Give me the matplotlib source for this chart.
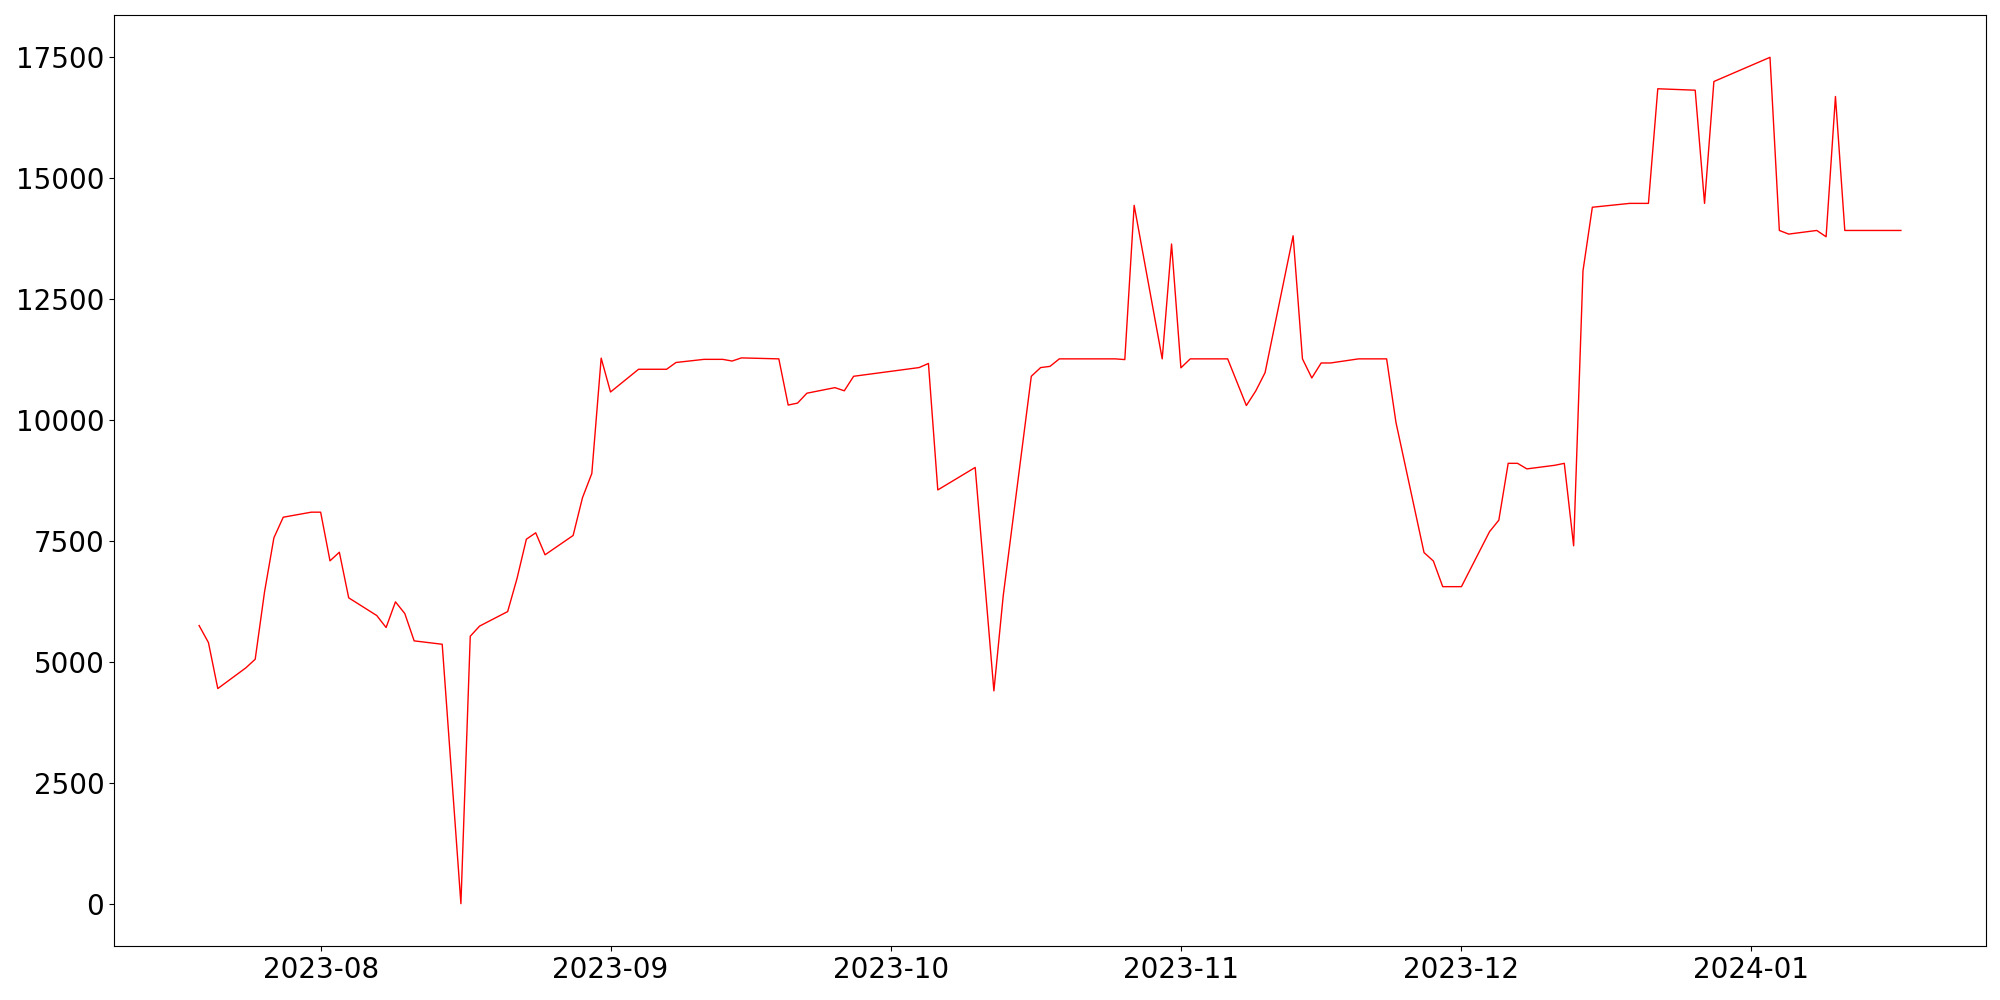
import numpy as np
import pandas as pd
from matplotlib import pyplot as plt

# daily values (trading days only, straight runs dropped)
dates = ['2023-07-19', '2023-07-20', '2023-07-21', '2023-07-24', '2023-07-25',
         '2023-07-26', '2023-07-27', '2023-07-28', '2023-07-31', '2023-08-01',
         '2023-08-02', '2023-08-03', '2023-08-04', '2023-08-07', '2023-08-08',
         '2023-08-09', '2023-08-10', '2023-08-11', '2023-08-14', '2023-08-16',
         '2023-08-17', '2023-08-18', '2023-08-21', '2023-08-22', '2023-08-23',
         '2023-08-24', '2023-08-25', '2023-08-28', '2023-08-29', '2023-08-30',
         '2023-08-31', '2023-09-01', '2023-09-04', '2023-09-07', '2023-09-08',
         '2023-09-11', '2023-09-13', '2023-09-14', '2023-09-15', '2023-09-19',
         '2023-09-20', '2023-09-21', '2023-09-22', '2023-09-25', '2023-09-26',
         '2023-09-27', '2023-10-04', '2023-10-05', '2023-10-06', '2023-10-10',
         '2023-10-12', '2023-10-13', '2023-10-16', '2023-10-17', '2023-10-18',
         '2023-10-19', '2023-10-25', '2023-10-26', '2023-10-27', '2023-10-30',
         '2023-10-31', '2023-11-01', '2023-11-02', '2023-11-06', '2023-11-08',
         '2023-11-09', '2023-11-10', '2023-11-13', '2023-11-14', '2023-11-15',
         '2023-11-16', '2023-11-17', '2023-11-20', '2023-11-23', '2023-11-24',
         '2023-11-27', '2023-11-28', '2023-11-29', '2023-12-01', '2023-12-04',
         '2023-12-05', '2023-12-06', '2023-12-07', '2023-12-08', '2023-12-11',
         '2023-12-12', '2023-12-13', '2023-12-14', '2023-12-15', '2023-12-19',
         '2023-12-21', '2023-12-22', '2023-12-26', '2023-12-27', '2023-12-28',
         '2024-01-03', '2024-01-04', '2024-01-05', '2024-01-08', '2024-01-09',
         '2024-01-10', '2024-01-11', '2024-01-17']
values = [5751, 5399, 4448, 4876, 5054,
          6448, 7565, 7991, 8095, 8095,
          7089, 7267, 6324, 5958, 5710,
          6241, 5999, 5434, 5364, 0,
          5530, 5740, 6040, 6723, 7536,
          7669, 7214, 7613, 8393, 8895,
          11280, 10580, 11050, 11050, 11190,
          11255, 11255, 11220, 11285, 11265,
          10310, 10350, 10555, 10670, 10605,
          10905, 11085, 11170, 8555, 9020,
          4400, 6370, 10905, 11085, 11110,
          11265, 11265, 11250, 14440, 11265,
          13640, 11080, 11265, 11265, 10300,
          10600, 10980, 13810, 11265, 10870,
          11180, 11180, 11265, 11265, 9950,
          7260, 7085, 6555, 6555, 7690,
          7930, 9105, 9105, 8990, 9065,
          9105, 7400, 13085, 14400, 14480,
          14480, 16850, 16820, 14480, 17000,
          17500, 13920, 13845, 13920, 13790,
          16690, 13920, 13920]

t = pd.to_datetime(dates)

fig, ax = plt.subplots(figsize=(20, 10), dpi=100)
ax.plot(t, values, 'r', lw=1)
ax.tick_params(labelsize=20)
plt.subplots_adjust(left=0.057, right=0.993, top=0.985, bottom=0.054)
plt.savefig('out.png')
